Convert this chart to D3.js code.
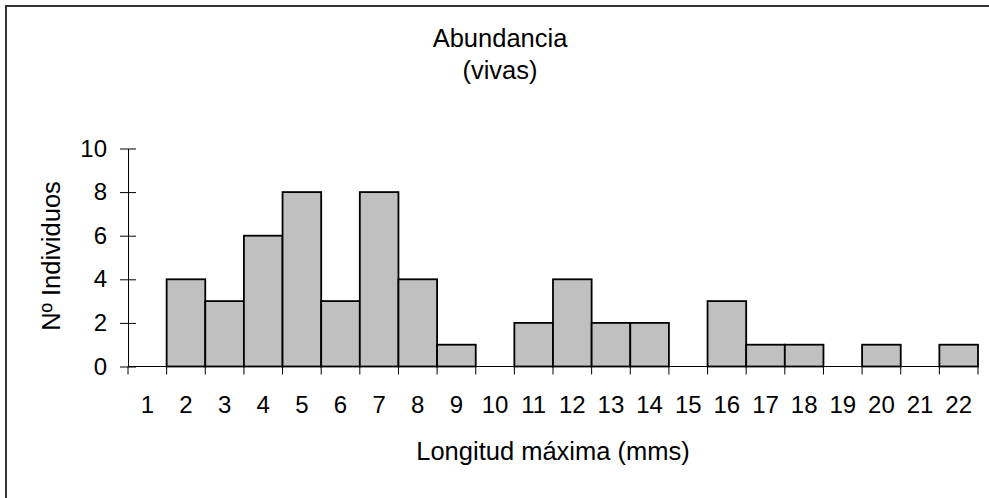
<!DOCTYPE html>
<html><head><meta charset="utf-8">
<script src="https://cdn.jsdelivr.net/npm/d3@7"></script>
<style>
html,body{margin:0;padding:0;background:#fff;}
svg{display:block;font-family:"Liberation Sans",Arial,sans-serif;}
</style></head>
<body>
<script>
const categories = ["1","2","3","4","5","6","7","8","9","10","11","12","13","14","15","16","17","18","19","20","21","22"];
const values = [0,4,3,6,8,3,8,4,1,0,2,4,2,2,0,3,1,1,0,1,0,1];
const yTicks = [0,2,4,6,8,10];
const titleLines = ["Abundancia","(vivas)"];
const xTitle = "Longitud máxima (mms)";
const yTitle = "Nº Individuos";

const W = 989, H = 498;
const svg = d3.select("body").append("svg").attr("width",W).attr("height",H);

// outer chart border (right/bottom out of frame)
svg.append("rect").attr("x",6).attr("y",6).attr("width",1100).attr("height",600)
  .attr("fill","none").attr("stroke","#333").attr("stroke-width",2);

const x = d3.scaleBand().domain(categories).range([128,978]).padding(0);
const y = d3.scaleLinear().domain([0,10]).range([366.5,148.5]);
const fs = 24;
const fsT = 25.5;

// bars
svg.append("g").selectAll("rect").data(categories.map((c,i)=>({c,v:values[i]})).filter(d=>d.v>0))
  .join("rect")
  .attr("x",d=>x(d.c)).attr("width",x.bandwidth())
  .attr("y",d=>y(d.v)).attr("height",d=>y(0)-y(d.v))
  .attr("fill","#c0c0c0").attr("stroke","#000").attr("stroke-width",1.8);

// y axis
const yAxis = d3.axisLeft(y).tickValues(yTicks).tickSizeInner(8).tickSizeOuter(0).tickPadding(13);
const gy = svg.append("g").attr("transform","translate(128,0)").call(yAxis);
gy.selectAll(".tick line").attr("x2",8).attr("x1",-8).attr("stroke","#000");
gy.select(".domain").attr("stroke","#000");
gy.selectAll("text").attr("font-size",fs).attr("font-family","Liberation Sans, Arial, sans-serif").attr("fill","#000");

// x axis baseline and boundary ticks
const gx = svg.append("g");
gx.append("line").attr("x1",x.range()[0]).attr("x2",x.range()[1]).attr("y1",y(0)).attr("y2",y(0)).attr("stroke","#000");
const bounds = categories.map(c=>x(c)).concat([x(categories[categories.length-1])+x.bandwidth()]);
gx.selectAll("line.tk").data(bounds).join("line").attr("class","tk")
  .attr("x1",d=>d).attr("x2",d=>d).attr("y1",y(0)).attr("y2",y(0)+8).attr("stroke","#000");
gx.selectAll("text").data(categories).join("text")
  .attr("x",d=>x(d)+x.bandwidth()/2).attr("y",413)
  .attr("text-anchor","middle").attr("font-size",fs).attr("fill","#000").text(d=>d);

// titles
svg.selectAll("text.title").data(titleLines).join("text").attr("class","title")
  .attr("x",500).attr("y",(d,i)=>47+i*32).attr("text-anchor","middle")
  .attr("font-size",fsT).attr("fill","#000").text(d=>d);
svg.append("text").attr("x",553).attr("y",460).attr("text-anchor","middle")
  .attr("font-size",fsT).attr("fill","#000").text(xTitle);
svg.append("text").attr("transform","translate(60,256) rotate(-90)").attr("text-anchor","middle")
  .attr("font-size",fsT).attr("fill","#000").text(yTitle);
</script>
</body></html>
